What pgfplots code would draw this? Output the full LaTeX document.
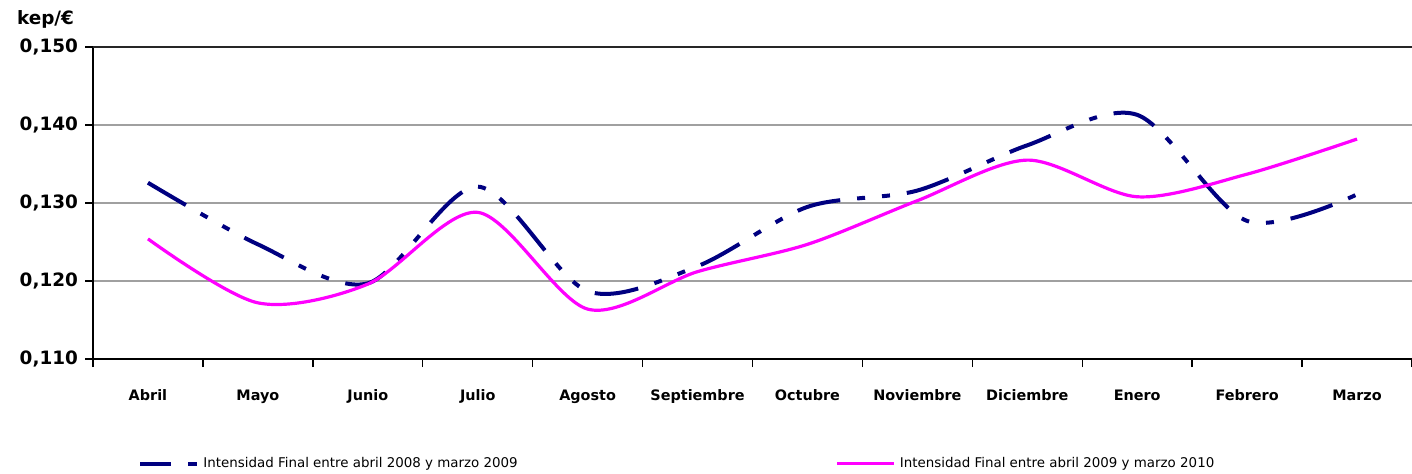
\documentclass[border=0pt]{standalone}
\usepackage{fontspec}
\setmainfont{DejaVu Sans}
\usepackage{pgfplots}
\pgfplotsset{compat=1.18}

\definecolor{navyline}{RGB}{0,0,128}
\definecolor{magline}{RGB}{255,0,255}
\definecolor{gridgray}{RGB}{160,160,160}

% monthly values, April to March (index 0..11)
\pgfplotstableread{
x y
0  0.1326
1  0.1247
2  0.1197
3  0.1321
4  0.1187
5  0.1219
6  0.1295
7  0.1316
8  0.1374
9  0.1413
10 0.1277
11 0.1311
}\serieA
\pgfplotstableread{
x y
0  0.1254
1  0.1172
2  0.1196
3  0.1288
4  0.1164
5  0.1212
6  0.1247
7  0.1303
8  0.1355
9  0.1308
10 0.1337
11 0.1382
}\serieB

\begin{document}
\begin{tikzpicture}
\begin{axis}[
    at={(0pt,0pt)}, anchor=south west,
    scale only axis,
    width=659.5pt, height=156pt,
    xmin=-0.5, xmax=11.5,
    ymin=0.110, ymax=0.150,
    axis x line*=bottom, axis y line*=left,
    axis line style={black, line width=0.9pt},
    xtick={-0.5,0.5,...,11.5},
    x tick label as interval,
    xticklabels={Abril,Mayo,Junio,Julio,Agosto,Septiembre,Octubre,Noviembre,Diciembre,Enero,Febrero,Marzo},
    ytick={0.11,0.12,0.13,0.14,0.15},
    scaled y ticks=false,
    tick align=outside,
    major tick length=4pt,
    tick style={black, line width=0.7pt},
    ymajorgrids,
    grid style={gridgray, line width=0.6pt},
    xticklabel style={font=\bfseries\fontsize{7.2}{8}\selectfont, yshift=-4.3pt,
        text height=1.6ex, text depth=0.4ex},
    yticklabel style={font=\bfseries\fontsize{9.2}{10}\selectfont,
        /pgf/number format/.cd, fixed, fixed zerofill, precision=3, use comma, assume math mode=true},
    legend style={at={(0.0296,-0.335)}, anchor=west, draw=none, fill=none,
        font=\fontsize{6.7}{8}\selectfont, legend columns=2,
        /tikz/every even column/.append style={column sep=157pt}},
    clip=false,
]
\addplot[navyline, line width=2pt, smooth, dash pattern=on 22pt off 8.5pt on 4pt off 8.5pt on 4pt off 8.5pt,
    legend image code/.code={\draw[navyline, line width=2pt, dash pattern=on 15.5pt off 8.5pt on 4.5pt off 20pt] (0pt,0pt) -- (28.5pt,0pt);}]
    table[x=x, y=y] {\serieA};
\addlegendentry{Intensidad Final entre abril 2008 y marzo 2009}
\addplot[magline, line width=1.6pt, smooth,
    legend image code/.code={\draw[magline, line width=1.6pt] (0pt,0pt) -- (28.5pt,0pt);}]
    table[x=x, y=y] {\serieB};
\addlegendentry{Intensidad Final entre abril 2009 y marzo 2010}
\draw[black!85, line width=0.9pt] (rel axis cs:0,1) -- (rel axis cs:1,1);
\end{axis}
\node[font=\bfseries\fontsize{9.2}{10}\selectfont, anchor=base west] at (-41.5pt,167.5pt) {kep/€};
\pgfresetboundingbox
\path[use as bounding box] (-46.5pt,-57pt) rectangle (659.5pt,179.5pt);
\end{tikzpicture}
\end{document}
